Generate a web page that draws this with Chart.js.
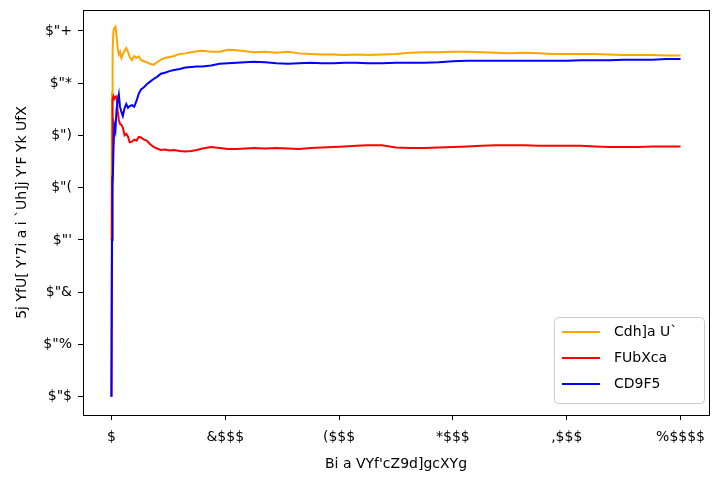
<!DOCTYPE html>
<html>
<head>
<meta charset="utf-8">
<script src="https://cdn.jsdelivr.net/npm/chart.js@4/dist/chart.umd.min.js"></script>
<style>
  html, body { margin: 0; padding: 0; background: #fff; }
  #wrap { width: 712px; height: 478px; }
</style>
</head>
<body>
<div id="wrap"><canvas id="graphCanvas" width="712" height="478"></canvas></div>
<script>
// text as it appears in the picture
const xTitle = "Bi a VYf'cZ9d]gcXYg";
const yTitle = "5j YfU[ Y'7i a i `Uh]j Y'F Yk UfX";
const seriesNames = ["Cdh]a U`", "FUbXca", "CD9F5"];
const seriesColors = ["#FFA500", "#FF0000", "#0000FF"];

const xTickValues = [0, 2000, 4000, 6000, 8000, 10000];
const xTickLabels = ["$", "&$$$", "($$$", "*$$$", ",$$$", "%$$$$"];
const yTickValues = [0.0, 0.1, 0.2, 0.3, 0.4, 0.5, 0.6, 0.7];
const yTickLabels = ['$"$', '$"%', '$"&', "$\"'", '$"(', '$")', '$"*', '$"+'];

const episodes = [0, 10, 20, 35, 50, 70, 90, 110, 130, 150, 175, 200, 230, 260, 290, 320, 360, 400, 440, 480,
  520, 570, 620, 680, 740, 800, 870, 940, 1020, 1100, 1200, 1300, 1400, 1500, 1600, 1750, 1900, 2050, 2200, 2350,
  2500, 2700, 2900, 3100, 3300, 3500, 3700, 3900, 4100, 4300, 4500, 4750, 5000, 5250, 5500, 5750, 6000, 6250, 6500,
  6750, 7000, 7250, 7500, 7750, 8000, 8250, 8500, 8750, 9000, 9250, 9500, 9750, 10000];

const optimalReward = [0.30, 0.58, 0.66, 0.70, 0.705, 0.708, 0.69, 0.665, 0.655, 0.66, 0.648, 0.655, 0.662, 0.667, 0.660, 0.650, 0.644, 0.652, 0.648, 0.651,
  0.644, 0.642, 0.640, 0.637, 0.635, 0.640, 0.645, 0.648, 0.650, 0.652, 0.656, 0.657, 0.659, 0.661, 0.662, 0.660, 0.660, 0.664, 0.663, 0.661,
  0.659, 0.660, 0.658, 0.660, 0.657, 0.656, 0.655, 0.655, 0.654, 0.655, 0.654, 0.655, 0.656, 0.658, 0.659, 0.659, 0.660, 0.660, 0.659,
  0.658, 0.657, 0.658, 0.657, 0.656, 0.656, 0.656, 0.656, 0.655, 0.654, 0.654, 0.654, 0.653, 0.653];

const randomReward = [0.0, 0.42, 0.57, 0.575, 0.57, 0.574, 0.575, 0.545, 0.530, 0.522, 0.520, 0.515, 0.500, 0.503, 0.498, 0.487, 0.488, 0.492, 0.490, 0.497,
  0.496, 0.492, 0.490, 0.483, 0.478, 0.475, 0.472, 0.473, 0.471, 0.472, 0.470, 0.469, 0.470, 0.472, 0.475, 0.478, 0.476, 0.474, 0.474, 0.475,
  0.476, 0.475, 0.476, 0.475, 0.474, 0.476, 0.477, 0.478, 0.479, 0.480, 0.481, 0.481, 0.477, 0.476, 0.476, 0.477, 0.478, 0.479, 0.480,
  0.481, 0.481, 0.481, 0.480, 0.480, 0.480, 0.480, 0.479, 0.478, 0.478, 0.478, 0.479, 0.479, 0.479];

const operaReward = [0.0, 0.30, 0.40, 0.47, 0.52, 0.51, 0.55, 0.565, 0.578, 0.555, 0.545, 0.537, 0.552, 0.560, 0.553, 0.556, 0.558, 0.555, 0.566, 0.580,
  0.588, 0.592, 0.598, 0.603, 0.608, 0.612, 0.618, 0.620, 0.623, 0.625, 0.627, 0.630, 0.631, 0.632, 0.632, 0.634, 0.637, 0.638, 0.639, 0.640,
  0.641, 0.640, 0.638, 0.637, 0.638, 0.639, 0.638, 0.638, 0.639, 0.639, 0.638, 0.638, 0.639, 0.639, 0.639, 0.640, 0.642, 0.643, 0.643,
  0.643, 0.643, 0.643, 0.643, 0.643, 0.643, 0.644, 0.644, 0.644, 0.645, 0.645, 0.645, 0.646, 0.646];

const toPoints = (ys) => episodes.map((x, i) => ({ x: x, y: ys[i] }));
const FONT = "'DejaVu Sans', sans-serif";

// axes frame + legend box drawn on top, matplotlib style
const framePlugin = {
  id: "frame",
  afterDatasetsDraw(chart) {
    const { ctx, chartArea: a } = chart;
    ctx.save();
    ctx.strokeStyle = "#000";
    ctx.lineWidth = 1;
    ctx.strokeRect(Math.round(a.left) + 0.5, Math.round(a.top) + 0.5,
      Math.round(a.right - a.left), Math.round(a.bottom - a.top));

    // legend
    const w = 150, h = 86;
    const lx = a.right - w - 5, ly = a.bottom - h - 12;
    ctx.fillStyle = "rgba(255,255,255,0.8)";
    ctx.strokeStyle = "#cccccc";
    ctx.beginPath();
    ctx.roundRect(lx + 0.5, ly + 0.5, w, h, 4);
    ctx.fill();
    ctx.stroke();
    ctx.font = "14px " + FONT;
    ctx.textBaseline = "middle";
    chart.data.datasets.forEach((ds, i) => {
      const ry = ly + 15 + i * 26;
      ctx.strokeStyle = ds.borderColor;
      ctx.lineWidth = 2;
      ctx.beginPath();
      ctx.moveTo(lx + 8, ry);
      ctx.lineTo(lx + 46, ry);
      ctx.stroke();
      ctx.fillStyle = "#000";
      ctx.fillText(ds.label, lx + 60, ry);
    });
    ctx.restore();
  },
};

new Chart(document.getElementById("graphCanvas").getContext("2d"), {
  type: "line",
  data: {
    datasets: [
      { label: seriesNames[0], data: toPoints(optimalReward), borderColor: seriesColors[0], order: 2 },
      { label: seriesNames[1], data: toPoints(randomReward), borderColor: seriesColors[1], order: 1 },
      { label: seriesNames[2], data: toPoints(operaReward), borderColor: seriesColors[2], order: 0 },
    ].map((d) => Object.assign(d, { borderWidth: 2, pointRadius: 0, tension: 0, fill: false })),
  },
  options: {
    responsive: false,
    animation: false,
    layout: { padding: { top: 10, right: 3, left: 0, bottom: 0 } },
    plugins: { legend: { display: false }, tooltip: { enabled: false } },
    scales: {
      x: {
        type: "linear",
        min: -500,
        max: 10500,
        afterBuildTicks: (s) => { s.ticks = xTickValues.map((v) => ({ value: v })); },
        afterFit: (s) => { s.height = 63; s.paddingLeft = 0; s.paddingRight = 0; },
        ticks: {
          autoSkip: false,
          maxRotation: 0,
          padding: 9,
          color: "#000",
          font: { family: FONT, size: 14 },
          callback: (v) => xTickLabels[xTickValues.indexOf(v)],
        },
        grid: { drawOnChartArea: false, drawTicks: true, tickLength: 5, color: "#000" },
        border: { display: true, color: "#000" },
        title: { display: true, text: xTitle, color: "#000", font: { family: FONT, size: 14 }, padding: { top: 2, bottom: 5 } },
      },
      y: {
        min: -0.035,
        max: 0.74,
        afterBuildTicks: (s) => { s.ticks = yTickValues.map((v) => ({ value: v })); },
        afterFit: (s) => { s.width = 83; s.paddingTop = 0; s.paddingBottom = 0; },
        ticks: {
          autoSkip: false,
          padding: 6,
          color: "#000",
          font: { family: FONT, size: 14 },
          callback: (v) => yTickLabels[yTickValues.findIndex((t) => Math.abs(t - v) < 1e-9)],
        },
        grid: { drawOnChartArea: false, drawTicks: true, tickLength: 5, color: "#000" },
        border: { display: true, color: "#000" },
        title: { display: true, text: yTitle, color: "#000", font: { family: FONT, size: 14 }, padding: { top: 14, bottom: 4 } },
      },
    },
  },
  plugins: [framePlugin],
});
</script>
</body>
</html>
